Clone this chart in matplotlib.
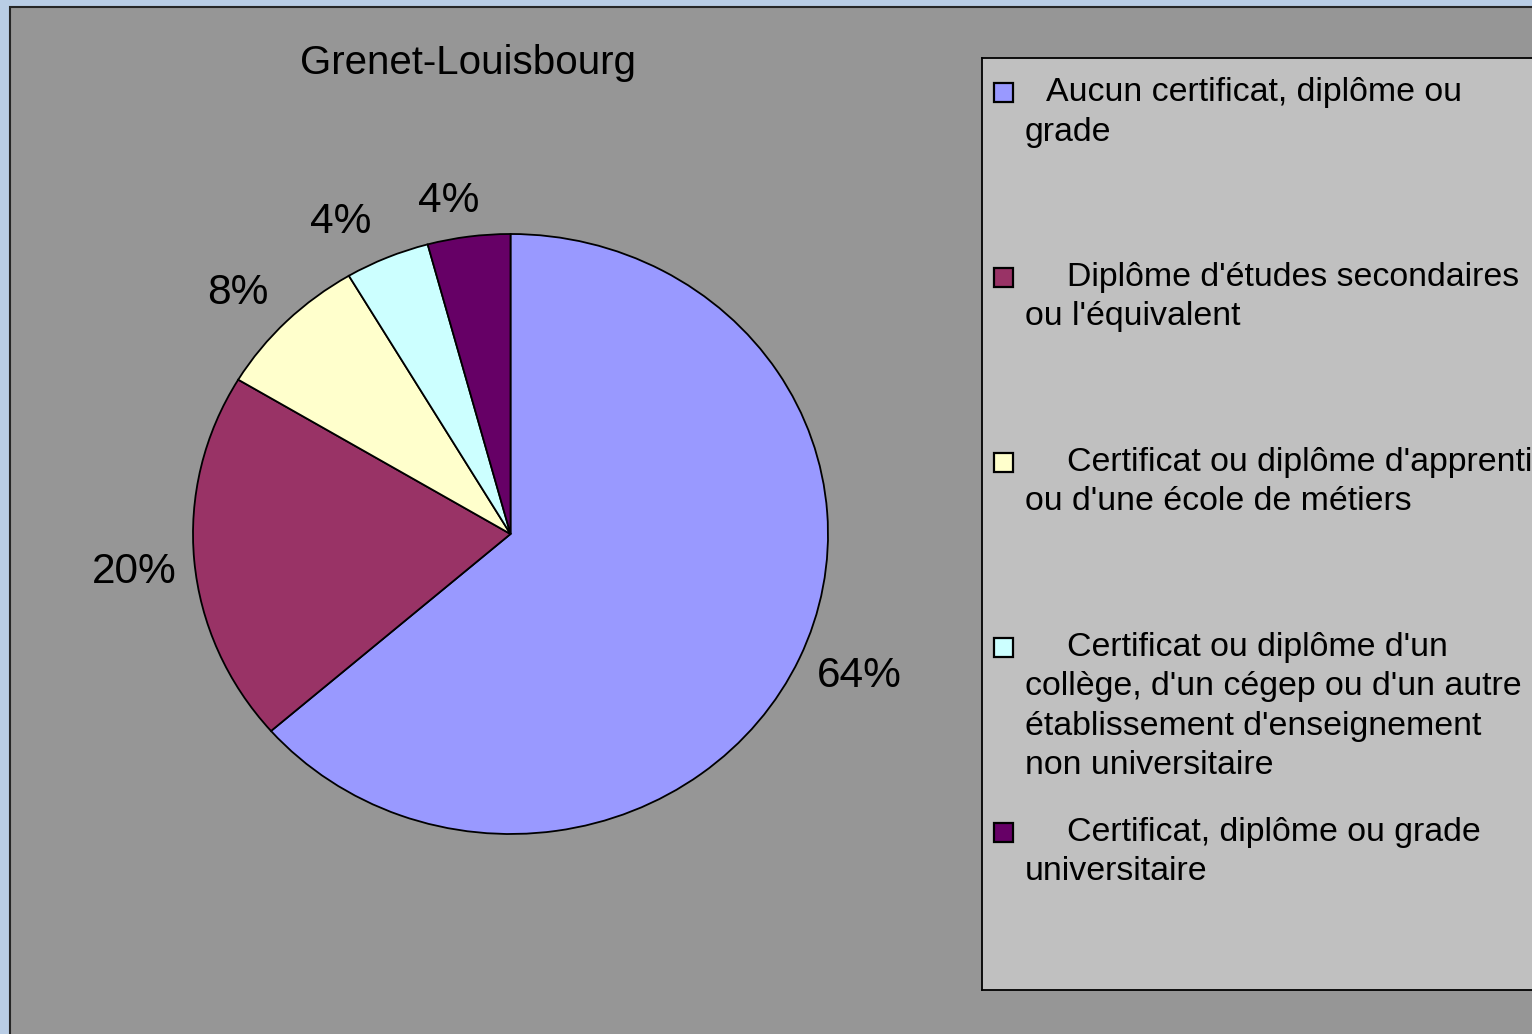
"""
Pie chart: highest diploma, Grenet-Louisbourg.
"""

import numpy as np
import matplotlib.pyplot as plt
from matplotlib.patches import Rectangle
from matplotlib.transforms import offset_copy

plt.rcParams['font.family'] = ['Liberation Sans', 'DejaVu Sans']

# data
title = "Grenet-Louisbourg"
shares = [63.6, 20.0, 7.9, 4.3, 4.2]
colors = ['#9999ff', '#993366', '#ffffcc', '#ccffff', '#660066']
legend_lines = [
    ["Aucun certificat, diplôme ou", "grade"],
    ["Diplôme d'études secondaires", "ou l'équivalent"],
    ["Certificat ou diplôme d'apprenti", "ou d'une école de métiers"],
    ["Certificat ou diplôme d'un", "collège, d'un cégep ou d'un autre",
     "établissement d'enseignement", "non universitaire"],
    ["Certificat, diplôme ou grade", "universitaire"],
]

# layout helpers (pixel boxes)
W, H = 1532, 1034


def box(x0, y0, x1, y1):
    return [x0 / W, 1 - y1 / H, (x1 - x0) / W, (y1 - y0) / H]


fig = plt.figure(figsize=(W / 100, H / 100), dpi=100, facecolor='#b9cde5')

# gray chart area with dark border
fig.patches.append(Rectangle((10 / W, -0.05), 1.1, 1.05 - 7 / H,
                             transform=fig.transFigure, facecolor='#969696',
                             edgecolor='#262626', linewidth=1.5, zorder=-5))

fig.text(468 / W, 1 - 63 / H, title, ha='center', va='center', fontsize=29)

# pie (slightly elliptical, like the original)
ax = fig.add_axes(box(193, 234, 828, 834))
wedges, _ = ax.pie(shares, colors=colors, startangle=90, counterclock=False,
                   wedgeprops=dict(edgecolor='black', linewidth=1.3))
ax.set_aspect('auto')
ax.set_xlim(-1, 1)
ax.set_ylim(-1, 1)
ax.axis('off')

label_dist = [1.19, 1.19, 1.185, 1.18, 1.14]
label_nudge = [1.8, 0.5, 1.6, 4.1, 2.3]
lab_tr = offset_copy(ax.transData, fig=fig, y=-4, units='dots')
for w, v, d, n in zip(wedges, shares, label_dist, label_nudge):
    mid = np.deg2rad((w.theta1 + w.theta2) / 2 + n)
    ax.text(d * np.cos(mid), d * np.sin(mid), '%.0f%%' % v,
            ha='center', va='center', fontsize=30.5, clip_on=False,
            transform=lab_tr)

# legend box, in pixel coordinates
lax = fig.add_axes(box(982, 58, 1600, 990))
lax.set_facecolor('#c0c0c0')
lax.set_xlim(982, 1600)
lax.set_ylim(990, 58)
lax.set_xticks([])
lax.set_yticks([])
for s in lax.spines.values():
    s.set_color('black')
    s.set_linewidth(1.3)

indents = [21, 42, 42, 42, 42]
for i, (lines, c) in enumerate(zip(legend_lines, colors)):
    y0 = 89 + 185 * i
    lax.add_patch(Rectangle((994, y0 - 6), 19, 19, facecolor=c,
                            edgecolor='black', linewidth=1.6))
    for k, line in enumerate(lines):
        x = 1025 + (indents[i] if k == 0 else 0)
        lax.text(x, y0 + 3.5 + 39.5 * k, line, ha='left', va='center',
                 fontsize=24.4)

fig.savefig('out.png', dpi=100, facecolor=fig.get_facecolor())
